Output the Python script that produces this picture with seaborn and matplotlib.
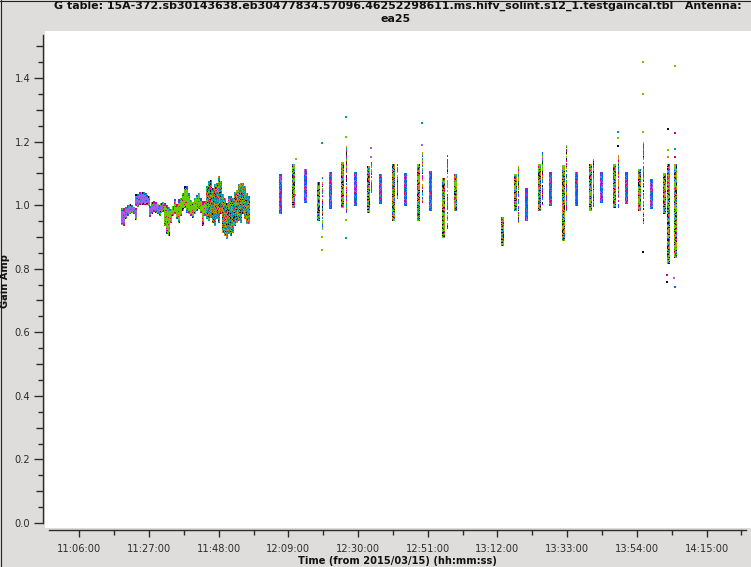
import matplotlib
matplotlib.use('Agg')
import matplotlib.pyplot as plt
from matplotlib.lines import Line2D
import numpy as np
import pandas as pd
import seaborn as sns

block_times = [678.6, 679.2, 679.8, 680.4, 681.0, 681.6, 682.2, 682.8,
               683.0, 683.6, 684.1, 684.7, 685.3, 685.9, 686.4, 687.0,
               687.2, 687.8, 688.3, 688.9, 689.5, 690.1, 690.6, 691.2,
               691.6, 692.2, 692.8, 693.4, 694.0, 694.6, 695.2, 695.8, 696.4, 697.0, 697.6,
               698.2, 698.8, 699.4, 700.0, 700.7, 701.3, 701.9, 702.5, 703.1, 703.7,
               704.3, 704.9, 705.5, 706.1, 706.7, 707.3, 707.9, 708.5, 709.1, 709.7, 710.3,
               710.9, 711.5, 712.1, 712.7, 713.3, 713.9, 714.5, 715.1, 715.7, 716.3, 716.9]
block_low = [0.941, 0.937, 0.958, 0.969, 0.974, 0.977, 0.974, 0.955,
             1.000, 0.998, 1.002, 1.003, 1.003, 1.003, 1.002, 1.000,
             0.967, 0.974, 0.981, 0.977, 0.974, 0.969, 0.979, 0.982,
             0.937, 0.911, 0.906, 0.948, 0.969, 0.974, 0.958, 0.948, 0.969, 0.985, 0.995,
             0.979, 0.974, 0.969, 0.964, 0.974, 0.985, 0.990, 0.979, 0.937, 0.969,
             0.958, 0.953, 0.964, 0.948, 0.937, 0.958, 0.948, 0.974, 0.916, 0.906, 0.896,
             0.911, 0.906, 0.916, 0.937, 0.948, 0.953, 0.948, 0.974, 0.958, 0.943, 0.943]
block_high = [0.990, 0.990, 0.993, 0.999, 1.000, 0.997, 0.993, 0.990,
              1.035, 1.035, 1.039, 1.041, 1.039, 1.035, 1.029, 1.027,
              0.995, 1.006, 1.013, 1.008, 1.000, 1.000, 1.006, 1.008,
              1.006, 1.000, 0.995, 0.985, 0.995, 1.016, 1.000, 1.016, 1.021, 1.037, 1.056,
              1.056, 1.037, 1.016, 1.006, 1.021, 1.032, 1.037, 1.021, 1.011, 1.011,
              1.058, 1.074, 1.079, 1.053, 1.063, 1.069, 1.090, 1.074, 1.032, 1.021, 1.006,
              1.027, 1.027, 1.021, 1.042, 1.047, 1.063, 1.069, 1.069, 1.058, 1.037, 1.027]
block_group = ['purple'] * 24 + ['green'] * 21 + ['teal'] * 22

strip_times = [726.5, 730.4, 734.0, 737.9, 739.1, 741.5, 745.1, 746.4, 749.1, 753.0, 753.9,
               756.6, 760.5, 761.7, 764.1, 768.0, 769.3, 771.7, 775.6, 776.8, 779.2, 793.4,
               797.3, 798.2, 800.6, 804.5, 805.4, 807.8, 811.7, 812.6, 815.7, 819.9, 820.8,
               823.2, 827.1, 828.3, 830.7, 834.6, 835.8, 838.3, 842.2, 843.4, 845.5]
strip_low = [0.975, 0.994, 1.010, 0.953, 0.922, 0.991, 0.994, 0.978, 1.000, 0.978, 1.041,
             1.007, 0.953, 1.022, 1.000, 0.953, 1.010, 0.985, 0.900, 0.928, 0.985, 0.874,
             0.985, 0.947, 0.953, 0.985, 1.000, 1.000, 0.890, 0.985, 1.000, 0.985, 0.994,
             1.010, 0.994, 0.994, 1.007, 0.985, 0.944, 0.991, 0.975, 0.818, 0.837]
strip_high = [1.095, 1.126, 1.110, 1.070, 1.088, 1.101, 1.132, 1.183, 1.104, 1.120, 1.136,
              1.095, 1.126, 1.136, 1.101, 1.126, 1.164, 1.104, 1.085, 1.164, 1.095, 0.963,
              1.095, 1.126, 1.054, 1.126, 1.173, 1.104, 1.126, 1.189, 1.104, 1.126, 1.142,
              1.101, 1.126, 1.158, 1.101, 1.110, 1.198, 1.079, 1.098, 1.126, 1.126]
strip_group = ['cool', 'warm', 'cool', 'warm', 'sparse', 'cool', 'warm', 'sparse', 'cool', 'warm', 'sparse',
               'cool', 'warm', 'sparse', 'cool', 'warm', 'sparse', 'cool', 'warm', 'sparse', 'warm', 'warm',
               'warm', 'sparse', 'cool', 'warm', 'sparse', 'cool', 'warm', 'sparse', 'cool', 'warm', 'sparse',
               'cool', 'warm', 'sparse', 'cool', 'warm', 'sparse', 'cool', 'warm', 'warm', 'warm']

outlier_times = [731.3, 731.2, 739.1, 739.1, 739.1, 746.4, 746.4, 746.4, 746.4, 753.9, 753.9,
                 769.3, 769.3, 828.3, 828.3, 828.3, 835.8, 835.8, 835.8, 835.8,
                 843.4, 843.4, 843.4, 843.1, 843.1, 845.5, 845.5, 845.5, 845.5, 845.5, 845.2]
outlier_amps = [1.145, 1.032, 1.195, 0.859, 0.900, 1.277, 1.214, 0.897, 0.953, 1.180, 1.151,
                1.258, 1.189, 1.230, 1.211, 1.186, 1.450, 1.349, 1.230, 0.852,
                1.239, 1.173, 1.151, 0.780, 0.758, 1.438, 1.227, 1.176, 1.151, 0.742, 0.771]
outlier_group = ['green', 'green', 'teal', 'green', 'green', 'teal', 'green', 'teal', 'green', 'purple', 'purple',
                 'teal', 'purple', 'teal', 'green', 'black', 'green', 'green', 'green', 'black',
                 'black', 'green', 'orange', 'red', 'black', 'green', 'red', 'teal', 'red', 'blue', 'purple']

major_times = [666, 687, 708, 729, 750, 771, 792, 813, 834, 855]
major_labels = ['11:06:00', '11:27:00', '11:48:00', '12:09:00', '12:30:00',
                '12:51:00', '13:12:00', '13:33:00', '13:54:00', '14:15:00']

colors = {'purple': '#a45ee5', 'green': '#66cc00', 'teal': '#0097a7', 'orange': '#d98200',
          'red': '#e0006e', 'blue': '#0b5cff', 'black': '#111111', 'magenta': '#d400c8'}
mix = {
    'purple': ['purple'] * 11 + ['blue', 'teal'],
    'green': ['green'] * 9 + ['orange', 'green', 'red', 'green'],
    'teal': ['teal', 'orange', 'teal', 'green', 'teal', 'red', 'orange', 'teal', 'orange', 'black', 'teal', 'orange', 'teal'],
    'cool': ['blue', 'purple', 'blue', 'red', 'teal', 'purple', 'blue', 'blue', 'magenta', 'purple', 'blue'],
    'warm': ['green', 'orange', 'black', 'green', 'red', 'blue', 'orange', 'green', 'teal', 'green', 'black'],
    'sparse': ['green', 'red', 'orange', 'blue', 'black', 'teal', 'magenta'],
}
edge = ['green', 'red', 'blue', 'black', 'teal', 'magenta', 'green']

bg = '#dfdddb'
dark = '#2b2b2b'
amp_step = 0.0032

sns.set_style('white')
plt.rcParams['font.family'] = ['DejaVu Sans']

fig = plt.figure(figsize=(7.51, 5.67), dpi=100, facecolor=bg)
ax = fig.add_axes([45 / 751, 39 / 567, 706 / 751, 497 / 567])
ax.set_facecolor('white')


def draw_column(t, low, high, group, offsets, width):
    # one column cut into short coloured pieces, like the stacked dots of the plot
    edges = np.arange(low, high, amp_step)
    key = int(round(t * 10))
    span = max(high - low, amp_step)
    names = mix[group]
    for j, off in enumerate(offsets):
        ys, cs = [], []
        for i, y in enumerate(edges):
            h = (key * 31 + j * 17 + i * 13 + (i * i + j) * 7 + i * key) % 101
            name = names[h % len(names)]
            frac = (y - low) / span
            if group in ('purple', 'green') and (frac < 0.13 or frac > 0.89):
                name = edge[h % len(edge)]
            if group == 'sparse' and h % 3 == 2:
                continue
            ys.append(y)
            cs.append(colors[name])
        ax.vlines([t + off] * len(ys), ys, np.array(ys) + amp_step, colors=cs, linewidth=width,
                  antialiased=False, capstyle='butt')


for t, lo, hi, g in zip(block_times, block_low, block_high, block_group):
    draw_column(t, lo, hi, g, [-0.15, 0.15], 0.72)
for t, lo, hi, g in zip(strip_times, strip_low, strip_high, strip_group):
    draw_column(t, lo, hi, g, [0.0] if g == 'sparse' else [-0.3, 0.0, 0.3], 0.6)

outliers = pd.DataFrame({'time': outlier_times, 'amp': outlier_amps, 'group': outlier_group})
sns.scatterplot(data=outliers, x='time', y='amp', hue='group', palette=colors, marker='s',
                s=1.2, linewidth=0, legend=False, ax=ax)

ax.set_xlim(655.67, 868.4)
ax.set_ylim(-0.0157, 1.5477)
ax.set_xlabel('')
ax.set_ylabel('')

for side in ['top', 'right']:
    ax.spines[side].set_visible(False)
for side in ['left', 'bottom']:
    ax.spines[side].set_visible(True)
    ax.spines[side].set_color(dark)
    ax.spines[side].set_linewidth(1.0)
    ax.spines[side].set_position(('outward', 1.5))
ax.spines['left'].set_bounds(0, 1.535)
ax.spines['bottom'].set_bounds(656.9, 866.9)

ax.set_xticks(major_times)
ax.set_xticklabels(major_labels)
ax.set_xticks(np.arange(676.5, 870, 21), minor=True)
ax.tick_params(axis='x', which='major', bottom=True, length=5, width=1, color=dark,
               labelsize=7.1, labelcolor=dark, pad=5)
ax.tick_params(axis='x', which='minor', bottom=True, length=3.6, width=1, color=dark)

y_ticks = np.arange(0, 1.51, 0.1)
ax.set_yticks(y_ticks)
ax.set_yticklabels(['%.1f' % v if i % 2 == 0 else '' for i, v in enumerate(y_ticks)])
ax.set_yticks(np.arange(0.05, 1.5, 0.1), minor=True)
ax.tick_params(axis='y', which='major', left=True, length=5, width=1, color=dark,
               labelsize=7.1, labelcolor=dark, pad=4)
ax.tick_params(axis='y', which='minor', left=True, length=3.6, width=1, color=dark)
for i, tick in enumerate(ax.yaxis.get_major_ticks()):
    if i % 2 == 0:
        tick.tick1line.set_markersize(6.5)

fig.text(400 / 751, 1 - 5.5 / 567,
         'G table: 15A-372.sb30143638.eb30477834.57096.46252298611.ms.hifv_solint.s12_1.testgaincal.tbl   Antenna: ',
         ha='center', va='center', fontsize=7.9, fontweight='bold', color='#111111')
fig.text(396 / 751, 1 - 18.5 / 567, 'ea25', ha='center', va='center',
         fontsize=7.9, fontweight='bold', color='#111111')
fig.text(397 / 751, 1 - 561 / 567, 'Time (from 2015/03/15) (hh:mm:ss)', ha='center', va='center',
         fontsize=7.1, fontweight='bold', color='#111111')
fig.text(5.5 / 751, 1 - 281 / 567, 'Gain Amp', ha='center', va='center', rotation=90,
         fontsize=7.1, fontweight='bold', color='#111111')

# thin dark edge on the left and top of the window
fig.add_artist(Line2D([0.5 / 751, 0.5 / 751], [0, 1], color='#222222', linewidth=0.8))
fig.add_artist(Line2D([0, 1], [1 - 0.5 / 567, 1 - 0.5 / 567], color='#222222', linewidth=0.8))

fig.savefig('out.png', dpi=100, facecolor=bg)
